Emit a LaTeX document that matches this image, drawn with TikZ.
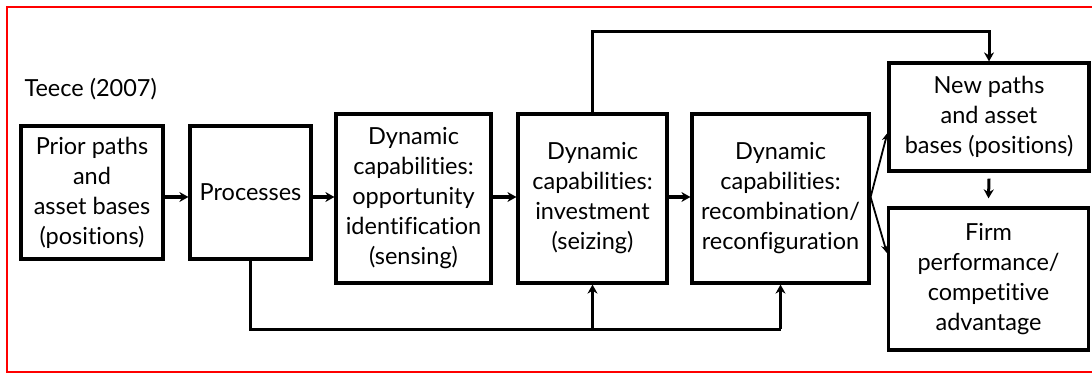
\documentclass[tikz,border=0pt]{standalone}
\usepackage{fontspec}
\setmainfont{Lato}[Ligatures=NoCommon]
\usetikzlibrary{arrows.meta,calc}
\begin{document}
\begin{tikzpicture}[x=1pt,y=-1pt,
  txt/.style={font=\fontsize{23.5}{30}\selectfont},
  box/.style={txt,draw,line width=3.2pt,align=center,inner sep=2pt},
  flow/.style={line width=4.5pt,-{Stealth[length=9pt,width=10pt]}},
  link/.style={line width=3pt,line join=miter},
  linkarrow/.style={line width=3pt,-{Stealth[length=9pt,width=10pt]}},
  fan/.style={line width=1.8pt,-{Stealth[length=8pt,width=7pt]}}]
\useasboundingbox (0,0) rectangle (1092,374);
% outer red frame (open to the right)
\draw[red,line width=2pt] (1100,7) -- (7,7) -- (7,372) -- (1100,372);

\node[txt,anchor=west] (title) at (21,89) {Teece (2007)};

\node[box,minimum width=142pt,minimum height=133pt] (b1) at (92,192.5)
  {Prior paths\\and\\asset bases\\(positions)};
\node[box,minimum width=121pt,minimum height=133pt] (b2) at (250.5,192.5)
  {Processes};
\node[box,minimum width=155pt,minimum height=169pt] (b3) at (413.5,198.5)
  {Dynamic\\capabilities:\\opportunity\\identification\\(sensing)};
\node[box,minimum width=149pt,minimum height=169pt] (b4) at (592.5,198.5)
  {Dynamic\\capabilities:\\investment\\(seizing)};
\node[box,minimum width=177pt,minimum height=169pt] (b5) at (780.5,198.5)
  {Dynamic\\capabilities:\\recombination/\\reconfiguration};
\node[box,minimum width=200pt,minimum height=108pt] (b6) at (989,117)
  {New paths\\and asset\\bases (positions)};
\node[box,minimum width=200pt,minimum height=142pt] (b7) at (988.5,279)
  {Firm\\performance/\\competitive\\advantage};

% main chain
\coordinate (row) at (0,197);
\draw[flow] (b1.east |- row) -- (b2.west |- row);
\draw[flow] (b2.east |- row) -- (b3.west |- row);
\draw[flow] (b3.east |- row) -- (b4.west |- row);
\draw[flow] (b4.east |- row) -- (b5.west |- row);

% link over the top
\coordinate (topy) at (0,32);
\draw[linkarrow] (b4.north) -- (b4.north |- topy) -| (b6.north);

% feedback along the bottom
\coordinate (boty) at (0,329);
\draw[link] (b2.south) -- (b2.south |- boty) -- (b5.south |- boty);
\draw[linkarrow] (b4.south |- boty) -- (b4.south);
\draw[linkarrow] (b5.south |- boty) -- (b5.south);

% fan out of the recombination box
\coordinate (fork) at (b5.east |- row);
\draw[fan] (fork) -- ([yshift=-16pt]b6.west);
\draw[fan] (fork) -- ([yshift=26pt]b7.west);

% new paths lead to performance
\draw[linkarrow] ([yshift=-6pt]b6.south) -- ([yshift=8pt]b7.north);
\end{tikzpicture}
\end{document}
